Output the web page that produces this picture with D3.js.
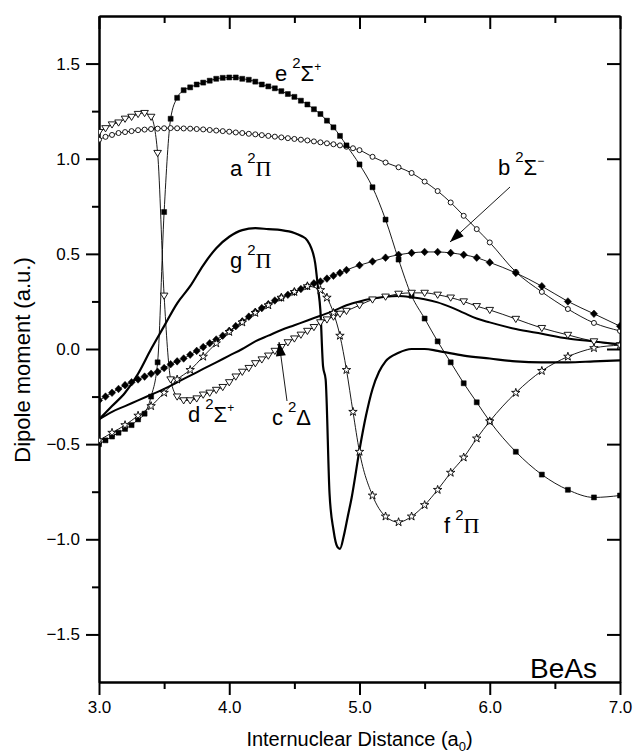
<!DOCTYPE html>
<html><head><meta charset="utf-8">
<script src="https://cdn.jsdelivr.net/npm/d3@7"></script>
<style>
body{margin:0;background:#fff}
svg{display:block}
text{font-family:"Liberation Sans",Arial,sans-serif;fill:#000}
</style>
</head><body><svg id="c" width="633" height="756"></svg>
<script>
// ---- tick definitions ----
const xTicks = [3.0, 4.0, 5.0, 6.0, 7.0];
const xMinor = [3.5, 4.5, 5.5, 6.5];
const yTicks = [-1.5, -1.0, -0.5, 0.0, 0.5, 1.0, 1.5];
const yMinor = [-1.25, -0.75, -0.25, 0.25, 0.75, 1.25];

// ---- a 2Pi (open circles) ----
const aX = [3.0,3.05,3.1,3.15,3.2,3.25,3.3,3.35,3.4,3.45,3.5,3.55,3.6,3.65,3.7,3.75,3.8,3.85,3.9,3.95,4.0,4.05,4.1,4.15,4.2,4.25,4.3,4.35,4.4,4.45,4.5,4.55,4.6,4.65,4.7,4.75,4.8,4.85,4.9,4.95,5.0,5.1,5.2,5.3,5.4,5.5,5.6,5.7,5.8,5.9,6.0,6.2,6.4,6.6,6.8,7.0];
const aY = [1.10,1.115,1.125,1.135,1.14,1.145,1.15,1.153,1.156,1.158,1.16,1.161,1.16,1.159,1.158,1.156,1.154,1.151,1.148,1.145,1.142,1.138,1.135,1.131,1.128,1.124,1.12,1.116,1.112,1.108,1.104,1.10,1.096,1.091,1.086,1.081,1.076,1.07,1.063,1.055,1.045,1.01,0.98,0.955,0.925,0.88,0.83,0.77,0.70,0.63,0.56,0.405,0.30,0.21,0.137,0.095];

// ---- e 2Sigma+ (filled squares) ----
const eX = [3.0,3.05,3.1,3.15,3.2,3.25,3.3,3.35,3.4,3.45,3.5,3.55,3.6,3.65,3.7,3.75,3.8,3.85,3.9,3.95,4.0,4.05,4.1,4.15,4.2,4.25,4.3,4.35,4.4,4.45,4.5,4.55,4.6,4.65,4.7,4.75,4.8,4.85,4.9,5.0,5.1,5.2,5.3,5.4,5.5,5.6,5.7,5.8,5.9,6.0,6.2,6.4,6.6,6.8,7.0];
const eY = [-0.50,-0.48,-0.46,-0.44,-0.42,-0.40,-0.37,-0.34,-0.25,-0.07,0.72,1.21,1.32,1.36,1.375,1.39,1.40,1.41,1.42,1.425,1.427,1.427,1.42,1.415,1.405,1.39,1.38,1.37,1.355,1.34,1.325,1.305,1.285,1.26,1.235,1.20,1.165,1.12,1.07,0.97,0.85,0.68,0.47,0.28,0.16,0.04,-0.07,-0.18,-0.28,-0.38,-0.54,-0.66,-0.74,-0.78,-0.77];

// ---- d 2Sigma+ (open down triangles) ----
const dX = [3.0,3.05,3.1,3.15,3.2,3.25,3.3,3.35,3.4,3.45,3.5,3.55,3.6,3.65,3.7,3.75,3.8,3.85,3.9,3.95,4.0,4.05,4.1,4.15,4.2,4.25,4.3,4.35,4.4,4.45,4.5,4.55,4.6,4.65,4.7,4.75,4.8,4.85,4.9,5.0,5.1,5.2,5.3,5.4,5.5,5.6,5.7,5.8,5.9,6.0,6.2,6.4,6.6,6.8,7.0];
const dY = [1.14,1.16,1.18,1.19,1.21,1.22,1.235,1.24,1.22,1.03,0.28,-0.16,-0.25,-0.27,-0.27,-0.26,-0.24,-0.23,-0.215,-0.20,-0.175,-0.145,-0.12,-0.10,-0.075,-0.055,-0.035,-0.01,0.01,0.035,0.055,0.075,0.095,0.115,0.14,0.155,0.17,0.185,0.20,0.23,0.26,0.275,0.29,0.295,0.295,0.285,0.27,0.25,0.225,0.205,0.158,0.11,0.074,0.04,0.02];

// ---- b 2Sigma- (filled diamonds) ----
const bX = [3.0,3.05,3.1,3.15,3.2,3.25,3.3,3.35,3.4,3.45,3.5,3.55,3.6,3.65,3.7,3.75,3.8,3.85,3.9,3.95,4.0,4.05,4.1,4.15,4.2,4.25,4.3,4.35,4.4,4.45,4.5,4.55,4.6,4.65,4.7,4.75,4.8,4.85,4.9,5.0,5.1,5.2,5.3,5.4,5.5,5.6,5.7,5.8,5.9,6.0,6.2,6.4,6.6,6.8,7.0];
const bY = [-0.27,-0.25,-0.23,-0.21,-0.19,-0.175,-0.16,-0.145,-0.13,-0.12,-0.10,-0.08,-0.065,-0.05,-0.03,-0.01,0.01,0.03,0.05,0.07,0.095,0.12,0.145,0.17,0.195,0.215,0.235,0.255,0.27,0.285,0.30,0.315,0.33,0.345,0.355,0.37,0.385,0.40,0.415,0.44,0.46,0.48,0.495,0.505,0.51,0.51,0.505,0.495,0.48,0.455,0.40,0.33,0.25,0.185,0.12];

// ---- f 2Pi (open stars) ----
const fX = [3.0,3.1,3.2,3.3,3.4,3.5,3.6,3.7,3.8,3.9,4.0,4.1,4.2,4.3,4.4,4.5,4.6,4.7,4.75,4.8,4.85,4.9,4.95,5.0,5.1,5.2,5.3,5.4,5.5,5.6,5.7,5.8,5.9,6.0,6.2,6.4,6.6,6.8,7.0];
const fY = [-0.48,-0.44,-0.40,-0.35,-0.30,-0.23,-0.16,-0.11,-0.04,0.03,0.09,0.14,0.19,0.23,0.27,0.30,0.33,0.31,0.27,0.19,0.07,-0.11,-0.33,-0.54,-0.77,-0.88,-0.91,-0.88,-0.82,-0.74,-0.65,-0.57,-0.47,-0.38,-0.23,-0.115,-0.04,0.005,0.02];

// ---- g 2Pi (thick solid line) ----
const gX = [3.0,3.1,3.2,3.3,3.4,3.5,3.6,3.7,3.8,3.9,4.0,4.1,4.2,4.3,4.4,4.5,4.55,4.6,4.63,4.66,4.68,4.7,4.72,4.74,4.77,4.8,4.83,4.85,4.88,4.91,4.94,5.0,5.05,5.1,5.15,5.2,5.3,5.4,5.5,5.6,5.8,6.0,6.2,6.4,6.6,6.8,7.0];
const gY = [-0.37,-0.30,-0.23,-0.13,0.0,0.12,0.24,0.33,0.44,0.53,0.59,0.625,0.635,0.63,0.625,0.61,0.595,0.57,0.53,0.45,0.33,0.20,-0.09,-0.16,-0.76,-0.95,-1.04,-1.05,-0.98,-0.88,-0.78,-0.53,-0.35,-0.21,-0.12,-0.065,-0.02,0.0,0.0,-0.01,-0.035,-0.05,-0.065,-0.07,-0.07,-0.065,-0.06];

// ---- c 2Delta (solid line) ----
const cX = [3.0,3.1,3.2,3.3,3.4,3.5,3.6,3.7,3.8,3.9,4.0,4.1,4.2,4.3,4.4,4.5,4.6,4.7,4.8,4.9,5.0,5.1,5.2,5.3,5.4,5.5,5.6,5.7,5.8,5.9,6.0,6.2,6.4,6.6,6.8,7.0];
const cY = [-0.37,-0.33,-0.30,-0.27,-0.24,-0.21,-0.175,-0.14,-0.105,-0.07,-0.035,0.0,0.04,0.07,0.10,0.125,0.15,0.175,0.20,0.23,0.25,0.265,0.275,0.278,0.272,0.262,0.245,0.22,0.19,0.16,0.14,0.105,0.08,0.055,0.04,0.025];

const svg = d3.select('#c');
const L = 99, R = 620, T = 16, B = 682;
const x = d3.scaleLinear().domain([3, 7]).range([L, R]);
const y = d3.scaleLinear().domain([-1.75, 1.75]).range([B, T]);

svg.append('defs').append('clipPath').attr('id', 'clip')
  .append('rect').attr('x', L).attr('y', T).attr('width', R - L).attr('height', B - T);

const fmt = d3.format('.1f');
function styleAxis(g) {
  g.selectAll('path').attr('stroke', '#000').attr('stroke-width', 2);
  g.selectAll('line').attr('stroke', '#000').attr('stroke-width', 2);
  g.selectAll('text').style('font-size', '17px').style('font-family', '"Liberation Sans",Arial,sans-serif');
}
// bottom
svg.append('g').attr('transform', `translate(0,${B})`)
  .call(d3.axisBottom(x).tickValues(xTicks).tickFormat(fmt).tickSize(13).tickSizeOuter(0).tickPadding(6))
  .call(styleAxis);
svg.append('g').attr('transform', `translate(0,${B})`)
  .call(d3.axisBottom(x).tickValues(xMinor).tickFormat('').tickSize(7).tickSizeOuter(0))
  .call(styleAxis);
// top
svg.append('g').attr('transform', `translate(0,${T})`)
  .call(d3.axisTop(x).tickValues(xTicks).tickFormat('').tickSize(-13).tickSizeOuter(0))
  .call(styleAxis);
svg.append('g').attr('transform', `translate(0,${T})`)
  .call(d3.axisTop(x).tickValues(xMinor).tickFormat('').tickSize(-7).tickSizeOuter(0))
  .call(styleAxis);
// left
svg.append('g').attr('transform', `translate(${L},0)`)
  .call(d3.axisLeft(y).tickValues(yTicks).tickFormat(fmt).tickSize(13).tickSizeOuter(0).tickPadding(6))
  .call(styleAxis);
svg.append('g').attr('transform', `translate(${L},0)`)
  .call(d3.axisLeft(y).tickValues(yMinor).tickFormat('').tickSize(7).tickSizeOuter(0))
  .call(styleAxis);
// right
svg.append('g').attr('transform', `translate(${R},0)`)
  .call(d3.axisRight(y).tickValues(yTicks).tickFormat('').tickSize(-13).tickSizeOuter(0))
  .call(styleAxis);

// axis titles
svg.append('text').attr('x', (L + R) / 2).attr('y', 746).attr('text-anchor', 'middle')
  .style('font-size', '20px')
  .html('Internuclear Distance (a<tspan dy="5" font-size="13">0</tspan><tspan dy="-5">)</tspan>');
svg.append('text').attr('transform', `translate(30,360) rotate(-90)`)
  .attr('text-anchor', 'middle').style('font-size', '22px').text('Dipole moment (a.u.)');

const plot = svg.append('g').attr('clip-path', 'url(#clip)');
const zip = (xs, ys) => xs.map((v, i) => [v, ys[i]]);
const line = d3.line().x(d => x(d[0])).y(d => y(d[1])).curve(d3.curveMonotoneX);

const series = [
  {xs: aX, ys: aY, w: 0.9, mark: 'circle'},
  {xs: eX, ys: eY, w: 0.9, mark: 'square'},
  {xs: dX, ys: dY, w: 0.9, mark: 'tri'},
  {xs: bX, ys: bY, w: 0.9, mark: 'diamond'},
  {xs: fX, ys: fY, w: 0.9, mark: 'star'},
  {xs: gX, ys: gY, w: 2.2, mark: null},
  {xs: cX, ys: cY, w: 2.0, mark: null}
];
series.forEach(s => {
  plot.append('path').datum(zip(s.xs, s.ys)).attr('d', line)
    .attr('fill', 'none').attr('stroke', '#000').attr('stroke-width', s.w);
});
const starPath = d3.symbol(d3.symbolStar, 22)();
const shapes = {
  square: 'M-2.5,-2.5H2.5V2.5H-2.5Z',
  diamond: 'M0,-3.8L3.6,0L0,3.8L-3.6,0Z',
  tri: 'M-3.8,-2.6L3.8,-2.6L0,3.6Z',
  star: starPath
};
series.filter(s => s.mark).forEach(s => {
  const pts = zip(s.xs, s.ys);
  const g = plot.append('g');
  if (s.mark === 'circle') {
    g.selectAll('circle').data(pts).join('circle')
      .attr('cx', d => x(d[0])).attr('cy', d => y(d[1])).attr('r', 2.5)
      .attr('fill', '#fff').attr('stroke', '#000').attr('stroke-width', 0.9);
  } else {
    const filled = (s.mark === 'square' || s.mark === 'diamond');
    g.selectAll('path').data(pts).join('path')
      .attr('transform', d => `translate(${x(d[0])},${y(d[1])})`)
      .attr('d', shapes[s.mark])
      .attr('fill', filled ? '#000' : '#fff')
      .attr('stroke', '#000').attr('stroke-width', filled ? 0.5 : 0.9);
  }
});

// state labels
function label(px, py, letter, sym, supSign) {
  const t = svg.append('text').attr('x', px).attr('y', py).style('font-size', '22px');
  t.append('tspan').text(letter);
  t.append('tspan').attr('dx', 5).attr('dy', -13).style('font-size', '15px').text('2');
  const isPi = sym === 'Π';
  t.append('tspan').attr('dy', 13)
    .style('font-family', isPi ? '"Liberation Serif","DejaVu Serif",serif' : '"Liberation Sans",Arial,sans-serif')
    .text(sym);
  if (supSign) t.append('tspan').attr('dy', -10).style('font-size', '12px').text(supSign);
}
label(275, 81, 'e', 'Σ', '+');
label(230, 176, 'a', 'Π', null);
label(498, 175, 'b', 'Σ', '−');
label(230, 268, 'g', 'Π', null);
label(188, 422, 'd', 'Σ', '+');
label(272, 425, 'c', 'Δ', null);
label(444, 533, 'f', 'Π', null);

// arrows
function arrow(x1, y1, x2, y2) {
  svg.append('line').attr('x1', x1).attr('y1', y1).attr('x2', x2).attr('y2', y2)
    .attr('stroke', '#000').attr('stroke-width', 0.9);
  const ang = Math.atan2(y2 - y1, x2 - x1);
  const len = 14, hw = 5;
  const bx = x2 - len * Math.cos(ang), by = y2 - len * Math.sin(ang);
  const p = [[x2, y2], [bx + hw * Math.sin(ang), by - hw * Math.cos(ang)], [bx - hw * Math.sin(ang), by + hw * Math.cos(ang)]];
  svg.append('path').attr('d', 'M' + p.map(q => q.join(',')).join('L') + 'Z').attr('fill', '#000');
}
arrow(510, 187, 450, 242);
arrow(287, 401, 279, 342);

svg.append('text').attr('x', 597).attr('y', 678).attr('text-anchor', 'end')
  .style('font-size', '28px').text('BeAs');
</script>
</body></html>
